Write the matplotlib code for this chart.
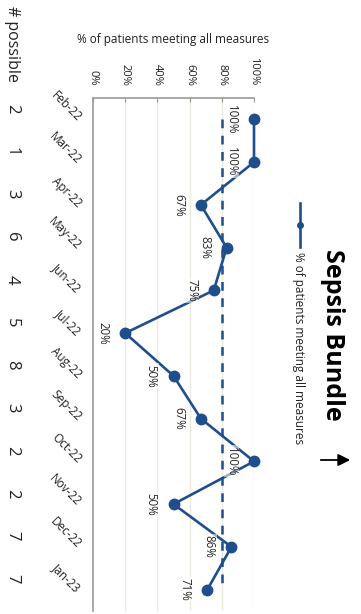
import matplotlib
matplotlib.use("Agg")
import matplotlib.pyplot as plt
from matplotlib.transforms import blended_transform_factory
from matplotlib.lines import Line2D
from matplotlib.patches import FancyArrowPatch

months = ["Feb-22", "Mar-22", "Apr-22", "May-22", "Jun-22", "Jul-22",
          "Aug-22", "Sep-22", "Oct-22", "Nov-22", "Dec-22", "Jan-23"]
pct_meeting = [1.00, 1.00, 0.67, 0.83, 0.75, 0.20, 0.50, 0.67, 1.00, 0.50, 0.86, 0.71]
possible = [2, 1, 3, 6, 4, 5, 8, 3, 2, 2, 7, 7]
target = 0.80
x_ticks = [0.0, 0.2, 0.4, 0.6, 0.8, 1.0]
x_tick_labels = ["0%", "20%", "40%", "60%", "80%", "100%"]

plt.rcParams['font.family'] = ['Open Sans', 'DejaVu Sans']

W, H = 361, 614
fig = plt.figure(figsize=(W / 100, H / 100), dpi=100)
ax = fig.add_axes([93 / W, (H - 611) / H, (254 - 93) / W, (611 - 98) / H])

blue = "#1F4E8C"
pos = list(range(len(months)))

ax.set_xlim(0, 1)
ax.set_ylim(len(months) - 0.5, -0.5)

for t in x_ticks[1:]:
    ax.axvline(t, color="#ECE9DD", lw=1.0, zorder=0)

ax.plot([target] * len(months), pos, color=blue, lw=1.8, ls=(0, (3.5, 3)), zorder=2)
ax.plot(pct_meeting, pos, color=blue, lw=1.9, marker="o", ms=7.5, zorder=3, clip_on=False)

for v, p in zip(pct_meeting, pos):
    ax.annotate(f"{round(v * 100):.0f}%", (v, p), xytext=(-16, 0), textcoords="offset points",
                ha="center", va="center", rotation=270, fontsize=8.3, color="#262626",
                bbox=dict(boxstyle="square,pad=0.1", fc="white", ec="none", alpha=0.55), zorder=4)

ax.xaxis.tick_top()
ax.xaxis.set_label_position("top")
ax.set_xticks(x_ticks)
ax.set_xticklabels(x_tick_labels, rotation=270, fontsize=8, color="#222222")
ax.tick_params(axis="x", direction="in", length=3, color="#999999", pad=9)
ax.set_xlabel("% of patients meeting all measures", fontsize=8.5, labelpad=10, color="#222222")

ax.set_yticks(pos)
ax.set_yticklabels(months, rotation=-45, ha="right", va="center", rotation_mode="anchor",
                   fontsize=8.5, color="#222222")
ax.tick_params(axis="y", length=0, pad=10)

for s in ["right", "bottom"]:
    ax.spines[s].set_visible(False)
for s in ["top", "left"]:
    ax.spines[s].set_color("#999999")
    ax.spines[s].set_linewidth(1.2)

tr = blended_transform_factory(fig.transFigure, ax.transData)
for n, p in zip(possible, pos):
    ax.text(12 / W, p - 0.25, str(n), transform=tr, rotation=270, ha="center", va="center",
            fontsize=12, color="#222222")
fig.text(12 / W, 1 - 44 / H, "# possible", rotation=270, ha="center", va="center",
         fontsize=11.5, color="#222222")

fig.text(332 / W, 1 - 335 / H, "Sepsis Bundle", rotation=270, ha="center", va="center",
         fontsize=18, fontweight="bold", color="black")
fig.add_artist(Line2D([300 / W, 300 / W], [1 - 203 / H, 1 - 247 / H], color=blue, lw=1.9,
                      transform=fig.transFigure))
fig.add_artist(Line2D([300 / W], [1 - 225 / H], color=blue, marker="o", ms=4,
                      transform=fig.transFigure))
fig.text(298 / W, 1 - 252 / H, "% of patients meeting all measures", rotation=270,
         ha="center", va="top", fontsize=8.5, color="#222222")
fig.add_artist(FancyArrowPatch((318 / W, 1 - 460 / H), (353 / W, 1 - 460 / H),
                               transform=fig.transFigure, arrowstyle="-|>",
                               mutation_scale=18, color="black", lw=1.3))

fig.savefig("out.png", dpi=100)
